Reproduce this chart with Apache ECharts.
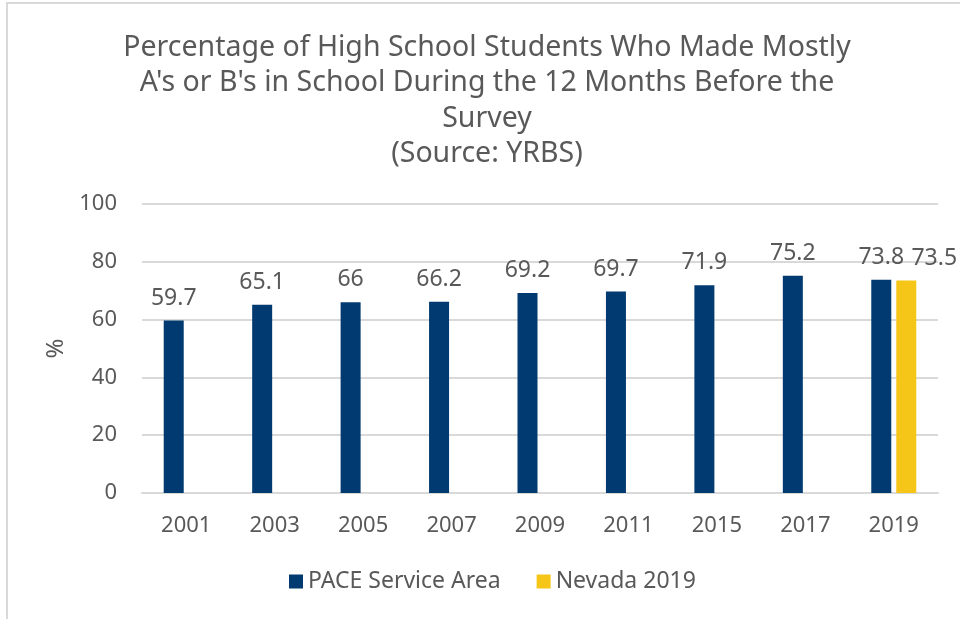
<!DOCTYPE html>
<html>
<head>
<meta charset="utf-8">
<script src="https://cdn.jsdelivr.net/npm/echarts@6/dist/echarts.min.js"></script>
<style>
  html, body { margin: 0; padding: 0; background: #fff; }
  #chart { width: 960px; height: 619px; }
</style>
</head>
<body>
<div id="chart"></div>
<script>
var years = ['2001', '2003', '2005', '2007', '2009', '2011', '2015', '2017', '2019'];
var paceValues = [59.7, 65.1, 66, 66.2, 69.2, 69.7, 71.9, 75.2, 73.8];
var nevadaValues = [null, null, null, null, null, null, null, null, 73.5];
var yTicks = [0, 20, 40, 60, 80, 100];

var textColor = '#595959';
var fontName = 'Noto Sans';

var myChart = echarts.init(document.getElementById('chart'));

var option = {
    animation: false,
    textStyle: { fontFamily: fontName, color: textColor },
    title: {
        text: 'Percentage of High School Students Who Made Mostly\nA\'s or B\'s in School During the 12 Months Before the\nSurvey\n(Source: YRBS)',
        left: 482,
        textAlign: 'center',
        top: 25,
        textStyle: {
            fontFamily: fontName,
            fontSize: 28.5,
            fontWeight: 'normal',
            lineHeight: 35.5,
            color: textColor
        }
    },
    // light frame on the left and top edges
    graphic: [{
        type: 'rect',
        shape: { x: 7, y: 3, width: 1000, height: 700 },
        style: { fill: 'none', stroke: '#d9d9d9', lineWidth: 2 },
        silent: true
    }],
    legend: {
        bottom: 21,
        left: 284,
        itemWidth: 14,
        itemHeight: 14,
        itemGap: 36,
        icon: 'rect',
        textStyle: { fontFamily: fontName, fontSize: 23, color: textColor },
        data: ['PACE Service Area', 'Nevada 2019']
    },
    grid: {
        left: 142,
        right: 22,
        top: 204,
        bottom: 126
    },
    xAxis: {
        type: 'category',
        data: years,
        axisLine: { lineStyle: { color: '#d9d9d9', width: 2 } },
        axisTick: { show: false },
        axisLabel: { fontSize: 22, color: textColor, margin: 22, fontFamily: fontName }
    },
    yAxis: {
        type: 'value',
        min: yTicks[0],
        max: yTicks[yTicks.length - 1],
        interval: 20,
        name: '%',
        nameLocation: 'middle',
        nameGap: 72,
        nameTextStyle: { fontSize: 24, color: textColor, fontFamily: fontName },
        axisLine: { show: false },
        axisTick: { show: false },
        axisLabel: { fontSize: 22, color: textColor, margin: 25, fontFamily: fontName },
        splitLine: { lineStyle: { color: '#d9d9d9', width: 2 } }
    },
    series: [
        {
            name: 'PACE Service Area',
            type: 'bar',
            data: paceValues,
            barWidth: 20,
            barGap: '25%',
            itemStyle: { color: '#003A70' },
            label: {
                show: true,
                position: 'top',
                distance: 11,
                fontSize: 23,
                color: textColor,
                fontFamily: fontName
            }
        },
        {
            name: 'Nevada 2019',
            type: 'bar',
            data: nevadaValues,
            barWidth: 20,
            barGap: '25%',
            itemStyle: { color: '#F5C518' },
            label: {
                show: true,
                position: 'top',
                distance: 11,
                offset: [28, 0],
                fontSize: 23,
                color: textColor,
                fontFamily: fontName
            }
        }
    ]
};

myChart.setOption(option);
</script>
</body>
</html>
